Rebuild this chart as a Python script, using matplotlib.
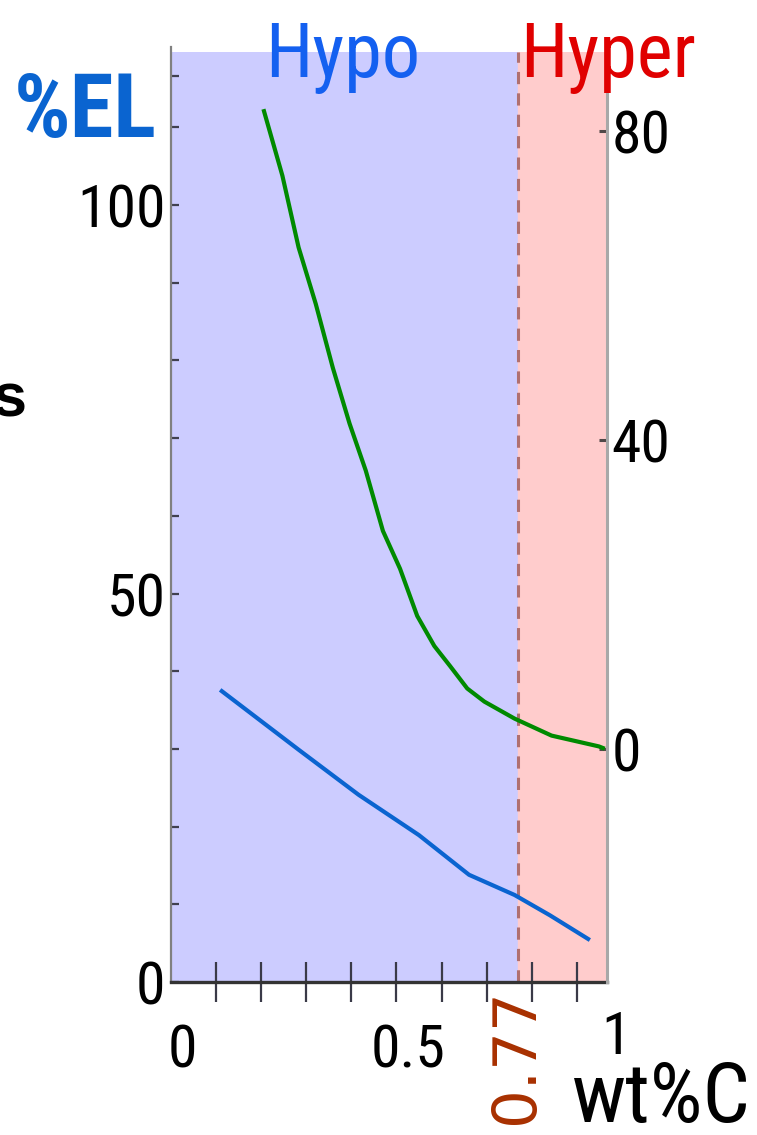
import matplotlib
matplotlib.use("Agg")
import matplotlib.pyplot as plt
import numpy as np

plt.rcParams["font.family"] = ["Roboto Condensed", "Liberation Sans", "DejaVu Sans"]

W, H = 757, 1135

# carbon content where hypo- and hyper-eutectoid meet
eutectoid = 0.77
x_max = 0.967

# %EL curve (left axis)
el_carbon = [0.109, 0.283, 0.416, 0.550, 0.661, 0.762, 0.840, 0.929]
el_value = [37.6, 29.9, 24.1, 18.9, 13.8, 11.2, 8.6, 5.4]

# impact energy curve (right axis)
ie_carbon = [0.205, 0.247, 0.283, 0.321, 0.359, 0.396, 0.432, 0.470, 0.508,
             0.546, 0.584, 0.619, 0.657, 0.695, 0.762, 0.844, 0.949, 0.962]
ie_value = [82.8, 74.2, 64.9, 57.6, 49.3, 42.1, 36.0, 28.2, 23.3,
            17.2, 13.3, 10.7, 7.8, 6.1, 3.9, 1.7, 0.3, 0.0]

left_ticks = [0, 10, 20, 30, 40, 50, 60, 70, 80, 90, 100, 110, 116.6]
left_labels = ["0", "", "", "", "", "50", "", "", "", "", "100", "", ""]
right_ticks = [0, 40, 80]
x_minor = [0.1, 0.2, 0.3, 0.4, 0.5, 0.6, 0.7, 0.8, 0.9]

TICK_FS = 43


def px(x, y):
    return x / W, 1 - y / H


fig = plt.figure(figsize=(W / 100, H / 100), dpi=100)
ax = fig.add_axes([171 / W, 1 - 982 / H, (607 - 171) / W, (982 - 52) / H])

ax.set_xlim(0, x_max)
ax.set_ylim(0, 119.7)
ax.axvspan(0, eutectoid, color="#ccccff", zorder=0)
ax.axvspan(eutectoid, x_max, color="#ffcccc", zorder=0)
ax.axvline(eutectoid, color="#b07070", lw=2.2, dashes=(4, 3), zorder=1)

ax.plot(el_carbon, el_value, color="#0a64d0", lw=3, solid_capstyle="butt", zorder=3)

ax2 = ax.twinx()
ax2.set_ylim(-30.2, 90.2)
ax2.plot(ie_carbon, ie_value, color="#008a00", lw=3, solid_capstyle="butt", zorder=3)

for a in (ax, ax2):
    a.spines["top"].set_visible(False)
ax.spines["left"].set_color("#808080")
ax.spines["left"].set_linewidth(1.6)
ax.spines["left"].set_bounds(0, 120.3)
ax.spines["bottom"].set_color("#333333")
ax.spines["bottom"].set_linewidth(2.4)
ax.spines["right"].set_visible(False)
ax2.spines["left"].set_visible(False)
ax2.spines["bottom"].set_visible(False)
ax2.spines["right"].set_color("#a8a8a8")
ax2.spines["right"].set_linewidth(2.2)

ax.set_yticks(left_ticks)
ax.set_yticklabels(left_labels)
ax.tick_params(axis="y", direction="in", length=6, width=1.6, color="#404050",
               labelsize=TICK_FS, pad=4)

ax.set_xticks([])
ax.set_xticks(x_minor, minor=True)
ax.tick_params(axis="x", which="minor", direction="inout", length=29, width=1.6,
               color="#3a3a48")

ax2.set_yticks(right_ticks)
ax2.set_yticklabels([str(t) for t in right_ticks])
ax2.tick_params(axis="y", direction="in", length=6, width=2.2, color="#504848",
                labelsize=TICK_FS, pad=3)

# x tick labels
fig.text(*px(182, 1068), "0", fontsize=TICK_FS, ha="center", va="baseline")
fig.text(*px(408, 1068), "0.5", fontsize=TICK_FS, ha="center", va="baseline")
fig.text(*px(616, 1054), "1", fontsize=TICK_FS, ha="center", va="baseline")
fig.text(*px(516, 988), "0.77", fontsize=44, ha="center", va="top", rotation=90,
         color="#a83000", family=["DejaVu Sans"])
fig.text(*px(661, 1122), "wt%C", fontsize=60, ha="center", va="baseline")

fig.text(*px(343, 77), "Hypo", fontsize=55, ha="center", va="baseline", color="#1460f0")
fig.text(*px(608, 77), "Hyper", fontsize=55, ha="center", va="baseline", color="#e00000")
fig.text(*px(85, 137), "%EL", fontsize=64, ha="center", va="baseline", color="#0a64d0",
         fontweight="bold")
fig.text(*px(10, 417), "s", fontsize=44, ha="center", va="baseline", fontweight="bold",
         family=["Liberation Sans", "DejaVu Sans"])

fig.savefig("out.png", dpi=100)
